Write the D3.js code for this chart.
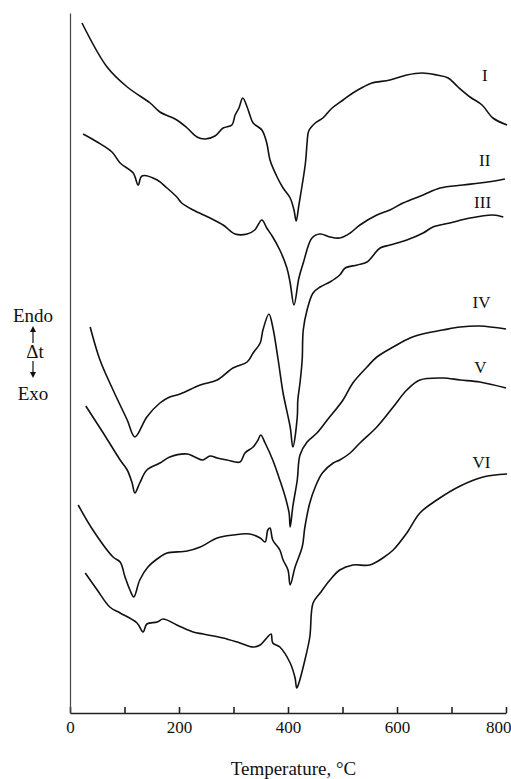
<!DOCTYPE html>
<html>
<head>
<meta charset="utf-8">
<script src="https://cdn.jsdelivr.net/npm/d3@7"></script>
<style>
  body { margin: 0; background: #fff; }
  svg { display: block; font-family: "Liberation Serif", "DejaVu Serif", serif; }
</style>
</head>
<body>
<svg width="511" height="779"></svg>
<script>
// DTA curves, temperature (°C) vs delta t (arbitrary units)
var curveI = [[22,69.0],[68,64.6],[105,62.6],[147,61.0],[165,60.1],[196,59.3],[215,58.5],[233,57.6],[248,57.4],[266,57.7],[281,58.5],[297,58.8],[303,59.8],[310,60.5],[317,61.5],[325,60.6],[330,59.8],[336,59.0],[352,58.3],[361,57.0],[367,55.3],[380,53.6],[391,52.5],[404,51.5],[411,50.3],[415,49.2],[420,50.8],[432,55.0],[435,57.0],[438,58.2],[450,59.0],[464,59.5],[481,60.5],[501,61.3],[519,62.0],[538,62.6],[554,63.0],[587,63.3],[618,63.8],[646,64.0],[673,63.8],[694,63.5],[712,62.6],[734,61.6],[756,60.8],[776,59.5],[802,58.8]];
var curveII = [[24,57.9],[50,57.1],[77,56.1],[92,55.0],[116,54.0],[125,52.8],[132,53.7],[160,53.3],[178,52.5],[196,51.6],[205,51.0],[226,50.3],[257,49.5],[281,48.8],[303,47.9],[325,47.9],[339,48.3],[352,49.3],[361,48.5],[372,47.6],[385,46.3],[398,44.5],[404,43.0],[411,40.8],[420,43.5],[428,45.0],[444,47.5],[459,47.9],[477,47.6],[495,47.5],[514,48.0],[532,48.8],[563,49.8],[587,50.3],[611,51.0],[648,51.8],[679,52.5],[721,52.8],[752,53.0],[789,53.3],[798,53.4]];
var curveIII = [[37,38.6],[55,35.3],[79,32.3],[105,29.3],[119,27.6],[141,29.6],[165,31.0],[183,31.6],[202,31.9],[239,32.8],[270,33.3],[299,34.5],[325,35.1],[336,36.0],[349,37.0],[354,38.3],[365,39.9],[372,38.6],[382,35.3],[391,32.0],[404,28.6],[409,26.6],[417,29.6],[418,31.3],[422,33.0],[426,35.3],[428,38.3],[435,40.3],[446,42.0],[459,42.6],[477,43.1],[495,43.8],[505,44.5],[527,44.8],[545,45.1],[569,46.5],[587,46.8],[618,47.3],[648,48.0],[666,48.6],[697,49.0],[734,49.5],[776,49.8],[795,49.6]];
var curveIV = [[29,30.7],[61,28.0],[92,25.3],[105,24.3],[114,23.0],[119,22.0],[128,23.0],[141,24.3],[165,25.0],[183,25.6],[215,25.9],[229,25.6],[244,25.3],[257,25.7],[270,25.5],[288,25.3],[312,25.1],[321,26.0],[336,26.6],[345,27.3],[350,27.8],[358,27.0],[372,25.3],[385,23.3],[395,21.6],[402,20.0],[404,18.6],[409,20.7],[417,23.3],[422,25.8],[435,27.1],[453,28.0],[472,29.3],[501,31.3],[519,33.0],[545,34.6],[563,35.6],[593,36.6],[624,37.5],[655,38.0],[684,38.3],[716,38.6],[752,38.7],[800,38.4]];
var curveV = [[15,20.8],[42,18.3],[79,15.6],[92,15.1],[101,13.6],[110,12.3],[117,11.6],[128,13.3],[143,14.6],[165,15.6],[178,16.0],[215,16.2],[239,16.6],[270,17.5],[299,17.8],[330,17.9],[349,17.5],[358,17.1],[363,18.3],[367,18.5],[372,17.3],[385,16.3],[391,15.3],[400,14.3],[404,12.8],[413,14.6],[426,16.6],[431,18.6],[440,21.0],[450,22.6],[463,24.0],[483,25.0],[495,25.3],[514,26.0],[532,27.0],[563,28.6],[593,30.6],[618,32.3],[642,33.3],[684,33.5],[716,33.3],[752,33.1],[800,32.5]];
var curveVI = [[28,14.0],[50,12.3],[73,10.6],[92,10.0],[123,9.0],[134,8.1],[141,8.9],[160,9.1],[171,9.4],[196,8.8],[226,8.1],[244,7.9],[281,7.5],[312,7.0],[336,6.6],[349,6.8],[361,7.5],[369,7.9],[372,7.0],[385,6.6],[404,5.0],[413,3.5],[416,2.5],[420,3.0],[431,5.3],[440,7.6],[446,11.0],[459,12.0],[477,13.3],[495,14.3],[519,14.8],[550,14.8],[574,15.5],[593,16.3],[618,18.0],[642,20.0],[673,21.3],[716,22.7],[758,23.6],[802,23.9]];

var curveNames = ['I', 'II', 'III', 'IV', 'V', 'VI'];
var curves = [curveI, curveII, curveIII, curveIV, curveV, curveVI];
// where each roman label sits, [temperature, delta t]
var labelSpots = [[761,63.8],[761,55.3],[757,51.1],[755,41.1],[753,34.6],[755,25.1]];

var xTicks = [0, 100, 200, 300, 400, 500, 600, 700, 800];

var svg = d3.select('svg');

var x = d3.scaleLinear().domain([0, 800]).range([70, 506]);
var y = d3.scaleLinear().domain([0, 70]).range([713, 13]);

// bottom axis, ticks pointing up
var xAxis = svg.append('g')
  .attr('transform', 'translate(0,' + y(0) + ')')
  .call(d3.axisBottom(x)
    .tickValues(xTicks)
    .tickSizeInner(-6)
    .tickSizeOuter(0)
    .tickPadding(8)
    .tickFormat(function (d) { return d % 200 == 0 ? d : ''; }));
xAxis.select('.domain').attr('stroke', '#222').attr('stroke-width', 1.6);
xAxis.selectAll('line').attr('stroke', '#222').attr('stroke-width', 1.6);
xAxis.selectAll('text')
  .attr('fill', '#111')
  .style('font-family', '"Liberation Serif", serif')
  .style('font-size', '17px');
// last label sits a bit left of its tick so it stays on the page
xAxis.selectAll('.tick')
  .filter(function (d) { return d == 800; })
  .select('text')
  .attr('text-anchor', 'end')
  .attr('x', 5);

// left axis: plain line
var yAxis = svg.append('g')
  .attr('transform', 'translate(' + x(0) + ',0)')
  .call(d3.axisLeft(y).tickValues([]).tickSizeOuter(0));
yAxis.select('.domain').attr('stroke', '#444').attr('stroke-width', 1.2);

// curves
var line = d3.line()
  .x(function (d) { return x(d[0]); })
  .y(function (d) { return y(d[1]); })
  .curve(d3.curveCatmullRom.alpha(0.5));

svg.append('g')
  .selectAll('path')
  .data(curves)
  .enter()
  .append('path')
  .attr('d', line)
  .attr('fill', 'none')
  .attr('stroke', '#111')
  .attr('stroke-width', 1.6)
  .attr('stroke-linejoin', 'round');

// roman numerals
svg.append('g')
  .selectAll('text')
  .data(curveNames)
  .enter()
  .append('text')
  .attr('x', function (d, i) { return x(labelSpots[i][0]); })
  .attr('y', function (d, i) { return y(labelSpots[i][1]); })
  .attr('dy', '0.35em')
  .attr('text-anchor', 'middle')
  .style('font-size', '17px')
  .attr('fill', '#111')
  .text(function (d) { return d; });

// x title
svg.append('text')
  .attr('x', x(410))
  .attr('y', 775)
  .attr('text-anchor', 'middle')
  .style('font-size', '19px')
  .attr('fill', '#111')
  .text('Temperature, °C');

// Endo / Δt / Exo
var side = svg.append('g').attr('fill', '#111').style('font-size', '19px');
side.append('text').attr('x', 33).attr('y', 322).attr('text-anchor', 'middle').text('Endo');
side.append('text').attr('x', 35).attr('y', 358).attr('text-anchor', 'middle').text('Δt');
side.append('text').attr('x', 33).attr('y', 400).attr('text-anchor', 'middle').text('Exo');

side.append('line').attr('x1', 33).attr('x2', 33).attr('y1', 343).attr('y2', 330)
  .attr('stroke', '#111').attr('stroke-width', 1.2);
side.append('path').attr('d', 'M30,332 L33,326 L36,332 Z');
side.append('line').attr('x1', 33).attr('x2', 33).attr('y1', 361).attr('y2', 374)
  .attr('stroke', '#111').attr('stroke-width', 1.2);
side.append('path').attr('d', 'M30,372 L33,378 L36,372 Z');
</script>
</body>
</html>
